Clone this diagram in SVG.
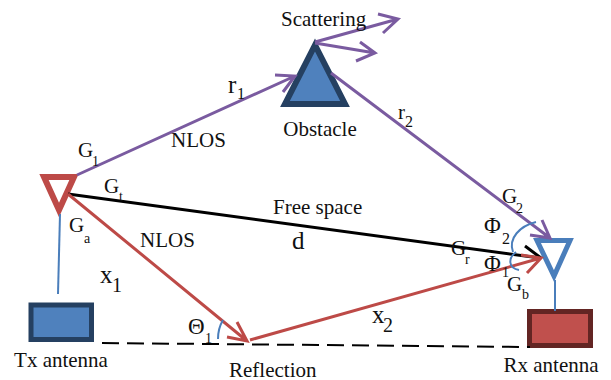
<svg xmlns="http://www.w3.org/2000/svg" width="611" height="380" viewBox="0 0 611 380">
<style>
text{font-family:"Liberation Serif","Times New Roman",serif;fill:#111;font-size:21px}
.s{font-size:14px}
.m{font-size:16px}
.l{font-size:25px}
.ph{font-size:23px}
.p{stroke:#7a5ba0;stroke-width:3;fill:none}
.r{stroke:#bd4a47;stroke-width:3;fill:none}
.k{stroke:#000;stroke-width:3;fill:none}
.b{stroke:#4a7ebb;stroke-width:2;fill:none}
</style>
<g id="tx-dish"><polygon points="44,177 74,177 59,210" fill="#fff" stroke="#bd4a47" stroke-width="6"/></g>
<g id="rx-dish"><polygon points="537,240.500 570,240.500 554,276" fill="#fff" stroke="#4a7ebb" stroke-width="5"/></g>
<g id="obstacle"><polygon points="315,45 345,104 285,104" fill="#4f81bd" stroke="#254061" stroke-width="6"/><text x="320" y="136" text-anchor="middle">Obstacle</text></g>
<g id="tx-antenna"><rect x="31" y="305" width="60.500" height="34.500" fill="#4f81bd" stroke="#254061" stroke-width="5"/><text x="61" y="367" text-anchor="middle">Tx antenna</text></g>
<g id="rx-antenna"><rect x="529.500" y="311.500" width="61" height="34" fill="#c0504d" stroke="#632523" stroke-width="5"/><text x="551" y="372" text-anchor="middle">Rx antenna</text></g>
<g id="connectors">
<path class="p" d="M77 175L295 76M275 75L295 76L283 92"/>
<path class="p" d="M331 73L550 238M542 220L550 238L530 235"/>
<path class="p" d="M315 42L398 19M378 14L398 19L383 33"/>
<path class="p" d="M315 43L375 53M360 42L375 53L356 61"/>
<path class="k" d="M68 194L540 258M525 246L541 258"/>
<path class="r" d="M68 194L247 341M227 337L247 341L237 322"/>
<path class="r" d="M250 340L541 258M521 255L541 258L527 273"/>
<path d="M102 343L530 347" stroke="#000" stroke-width="2" stroke-dasharray="17 8" fill="none"/>
<path class="b" d="M60 214L58 294"/>
<path class="b" d="M555 280V311"/>
<path class="b" d="M218 339C218 330 220 325 223 320"/>
<path class="b" d="M536 222C520 226 508 238 513 252"/>
<path class="b" d="M516 252C508 258 508 268 519 270"/>
</g>
<g id="labels">
<text x="281" y="26">Scattering</text>
<text x="171" y="147">NLOS</text>
<text x="140" y="247">NLOS</text>
<text x="273" y="214">Free space</text>
<text x="229" y="377">Reflection</text>
<text class="l" x="292" y="249">d</text>
<text class="l" x="228" y="93">r</text><text class="m" x="237" y="99">1</text>
<text x="398" y="119">r</text><text class="m" x="405" y="127">2</text>
<text x="78" y="157">G</text><text class="s" x="92" y="166">1</text>
<text x="104" y="193">G</text><text class="s" x="119" y="201">t</text>
<text x="69" y="232">G</text><text class="s" x="84" y="243">a</text>
<text class="l" x="100" y="283">x</text><text class="l" style="font-size:20px" x="112" y="292">1</text>
<text class="l" x="372" y="323">x</text><text class="l" style="font-size:20px" x="383" y="332">2</text>
<text class="ph" x="188" y="334">Θ</text><text class="s" x="205" y="343">1</text>
<text x="502" y="203">G</text><text class="s" x="516" y="213">2</text>
<text class="ph" x="484" y="233">Φ</text><text class="m" x="502" y="244">2</text>
<text x="451" y="255">G</text><text class="s" x="465" y="264">r</text>
<text class="ph" x="484" y="271">Φ</text><text class="s" x="502" y="277">1</text>
<text x="507" y="291">G</text><text class="s" x="522" y="299">b</text>
</g>
</svg>
